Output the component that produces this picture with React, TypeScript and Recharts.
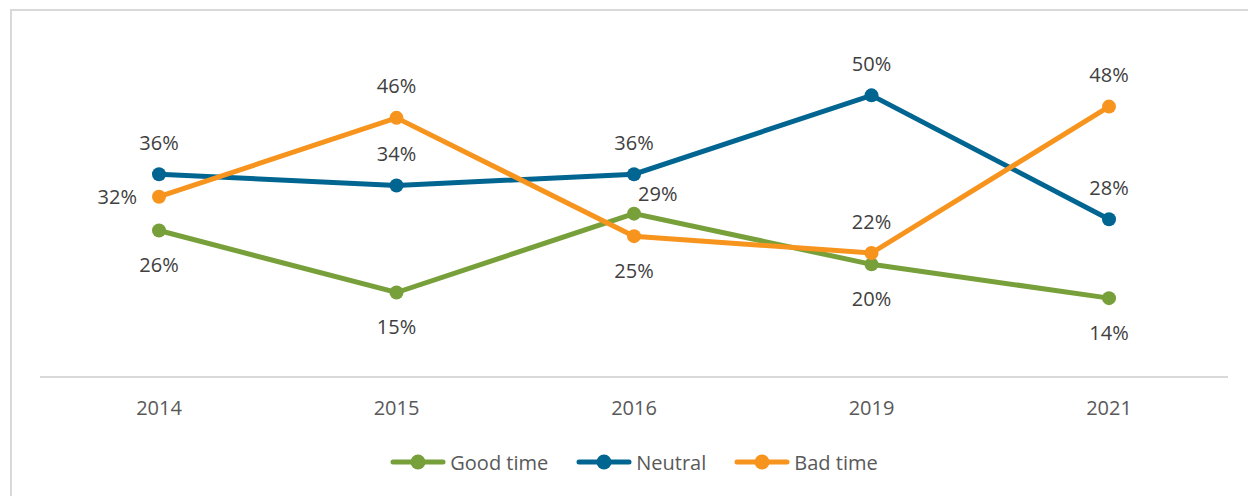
import { LineChart, Line, XAxis, YAxis, Legend, LabelList } from "recharts";

const years = ["2014", "2015", "2016", "2019", "2021"];
const goodTime = [26, 15, 29, 20, 14];
const neutral = [36, 34, 36, 50, 28];
const badTime = [32, 46, 25, 22, 48];

const data = years.map((year, i) => ({
  year,
  good: goodTime[i],
  neutral: neutral[i],
  bad: badTime[i],
}));

// where each data label sits relative to its point
const goodPlace = ["below", "below", "upright", "below", "below"];
const neutralPlace = ["above", "above", "above", "above", "above"];
const badPlace = ["left", "above", "below", "above", "above"];

const GREEN = "#78a03a";
const BLUE = "#006590";
const ORANGE = "#f7941d";
const FONT = "'Open Sans', sans-serif";

const makeLabel = (places: string[]) => (props: any) => {
  const { x, y, value, index } = props;
  const place = places[index];
  let tx = x;
  let ty = y;
  let anchor: "start" | "middle" | "end" = "middle";
  if (place === "above") ty = y - 32;
  else if (place === "below") ty = y + 34;
  else if (place === "left") {
    tx = x - 22;
    anchor = "end";
  } else if (place === "upright") {
    tx = x + 4;
    ty = y - 20;
    anchor = "start";
  }
  return (
    <text
      x={tx}
      y={ty}
      textAnchor={anchor}
      dominantBaseline="central"
      fill="#404040"
      fontSize={20}
      fontFamily={FONT}
    >
      {value}%
    </text>
  );
};

const legendItems = [
  { name: "Good time", color: GREEN },
  { name: "Neutral", color: BLUE },
  { name: "Bad time", color: ORANGE },
];

function LegendContent() {
  return (
    <div
      style={{
        display: "flex",
        justifyContent: "center",
        alignItems: "center",
        height: 30,
        fontFamily: FONT,
        fontSize: 20,
        color: "#595959",
      }}
    >
      {legendItems.map((item) => (
        <div key={item.name} style={{ display: "flex", alignItems: "center", margin: "0 14px" }}>
          <svg width={56} height={18} style={{ marginRight: 4 }}>
            <line x1={3} y1={9} x2={53} y2={9} stroke={item.color} strokeWidth={5} strokeLinecap="round" />
            <circle cx={28} cy={9} r={7.5} fill={item.color} />
          </svg>
          <span>{item.name}</span>
        </div>
      ))}
    </div>
  );
}

export default function App() {
  return (
    <div
      style={{
        position: "absolute",
        left: 0,
        top: 0,
        width: 1248,
        height: 496,
        overflow: "hidden",
        background: "#fff",
      }}
    >
      <div
        style={{
          position: "absolute",
          left: 10,
          top: 9,
          width: 1400,
          height: 600,
          borderLeft: "2px solid #d9d9d9",
          borderTop: "2px solid #d9d9d9",
        }}
      />
      <LineChart
        width={1248}
        height={496}
        data={data}
        margin={{ top: 39, right: 20, left: 40, bottom: 0 }}
      >
        <XAxis
          dataKey="year"
          height={89}
          padding={{ left: 119, right: 119 }}
          axisLine={{ stroke: "#d9d9d9", strokeWidth: 2 }}
          tickLine={false}
          tickMargin={18}
          tick={{ fill: "#595959", fontSize: 20, fontFamily: FONT }}
        />
        <YAxis hide domain={[0, 60]} />
        <Legend
          verticalAlign="bottom"
          content={<LegendContent />}
          wrapperStyle={{ bottom: 19 }}
        />
        <Line
          dataKey="good"
          name="Good time"
          stroke={GREEN}
          strokeWidth={5}
          dot={{ r: 7, fill: GREEN, stroke: "none" }}
          isAnimationActive={false}
        >
          <LabelList dataKey="good" content={makeLabel(goodPlace)} />
        </Line>
        <Line
          dataKey="neutral"
          name="Neutral"
          stroke={BLUE}
          strokeWidth={5}
          dot={{ r: 7, fill: BLUE, stroke: "none" }}
          isAnimationActive={false}
        >
          <LabelList dataKey="neutral" content={makeLabel(neutralPlace)} />
        </Line>
        <Line
          dataKey="bad"
          name="Bad time"
          stroke={ORANGE}
          strokeWidth={5}
          dot={{ r: 7, fill: ORANGE, stroke: "none" }}
          isAnimationActive={false}
        >
          <LabelList dataKey="bad" content={makeLabel(badPlace)} />
        </Line>
      </LineChart>
    </div>
  );
}
